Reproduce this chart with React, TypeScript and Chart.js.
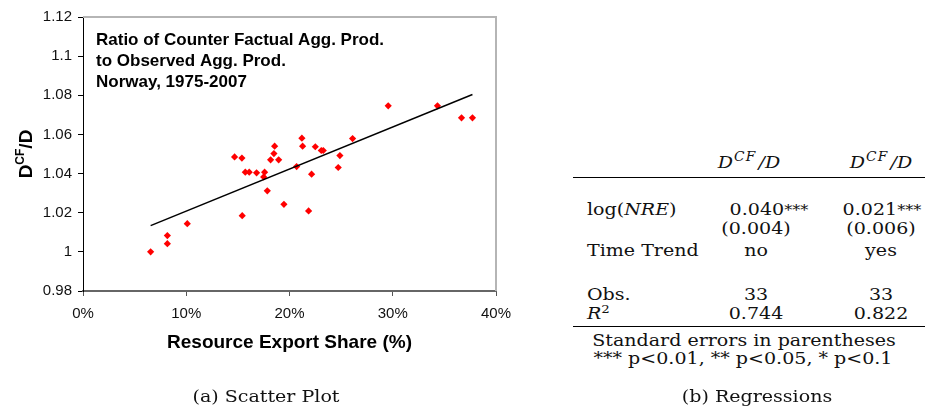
import React, { useEffect, useRef } from "react";
import { Chart, registerables } from "chart.js";

Chart.register(...registerables);

// ---- data ----
const resourceShare = [6.55, 8.17, 8.17, 10.1, 14.68, 15.39, 15.42, 15.72, 16.1, 16.81, 17.59, 17.5, 17.85, 18.17, 18.49, 18.56, 18.95, 19.46, 20.69, 21.2, 21.27, 21.85, 22.14, 22.5, 23.08, 23.27, 24.72, 24.88, 26.11, 29.56, 34.33, 36.66, 37.72];
const ratioCF = [1.0, 1.0083, 1.0042, 1.0144, 1.0485, 1.0479, 1.0185, 1.0407, 1.0407, 1.0404, 1.0407, 1.0383, 1.0312, 1.047, 1.0502, 1.054, 1.047, 1.0243, 1.0436, 1.0581, 1.054, 1.0209, 1.0397, 1.0537, 1.0518, 1.0518, 1.0431, 1.0492, 1.0579, 1.0746, 1.0746, 1.0685, 1.0685];
const trendX = [6.55, 37.72];
const trendY = [1.0134, 1.0804];
const xTicks = [0, 10, 20, 30, 40];
const yTicks = [0.98, 1.0, 1.02, 1.04, 1.06, 1.08, 1.1, 1.12];
const annotationLines = ["Ratio of Counter Factual Agg. Prod.", "to Observed Agg. Prod.", "Norway, 1975-2007"];
const xTitle = "Resource Export Share (%)";

// regression table
const col1 = { coef: "0.040", stars: "***", se: "(0.004)", trend: "no", obs: "33", r2: "0.744" };
const col2 = { coef: "0.021", stars: "***", se: "(0.006)", trend: "yes", obs: "33", r2: "0.822" };
const notes = ["Standard errors in parentheses", "*** p<0.01, ** p<0.05, * p<0.1"];

const SANS = "'Liberation Sans', Arial, sans-serif";
const SERIF = "'DejaVu Serif', serif";
const SX = 1.12;

const overlayPlugin = {
  id: "overlay",
  afterDraw(chart: any) {
    const { ctx, chartArea: a } = chart;
    ctx.save();
    // frame top and right
    ctx.strokeStyle = "#b5b5b5";
    ctx.lineWidth = 2;
    ctx.beginPath();
    ctx.moveTo(a.left, a.top);
    ctx.lineTo(a.right, a.top);
    ctx.lineTo(a.right, a.bottom);
    ctx.stroke();

    // annotation
    ctx.fillStyle = "#000";
    ctx.font = `bold 17px ${SANS}`;
    ctx.textAlign = "left";
    ctx.textBaseline = "alphabetic";
    annotationLines.forEach((t, i) => ctx.fillText(t, a.left + 13, a.top + 28 + i * 21));

    // x title
    ctx.font = `bold 19px ${SANS}`;
    ctx.textAlign = "center";
    ctx.textBaseline = "middle";
    ctx.fillText(xTitle, (a.left + a.right) / 2, a.bottom + 52);

    // y title with superscript
    const cy = (a.top + a.bottom) / 2;
    ctx.translate(25, cy);
    ctx.rotate(-Math.PI / 2);
    ctx.textAlign = "left";
    ctx.textBaseline = "alphabetic";
    const big = `bold 19px ${SANS}`;
    const small = `bold 12px ${SANS}`;
    ctx.font = big;
    const wD = ctx.measureText("D").width;
    const wSlash = ctx.measureText("/D").width;
    ctx.font = small;
    const wCF = ctx.measureText("CF").width;
    const total = wD + wCF + wSlash;
    let x = -total / 2;
    const base = 7;
    ctx.font = big;
    ctx.fillText("D", x, base);
    x += wD;
    ctx.font = small;
    ctx.fillText("CF", x, base - 8);
    x += wCF;
    ctx.font = big;
    ctx.fillText("/D", x, base);
    ctx.restore();
  },
};

function ScatterChart() {
  const ref = useRef<HTMLCanvasElement>(null);
  useEffect(() => {
    if (!ref.current) return;
    const points = resourceShare.map((x, i) => ({ x, y: ratioCF[i] }));
    const trend = trendX.map((x, i) => ({ x, y: trendY[i] }));
    const chart = new Chart(ref.current, {
      type: "scatter",
      data: {
        datasets: [
          {
            type: "line",
            data: trend,
            borderColor: "#000",
            borderWidth: 1.5,
            pointRadius: 0,
            fill: false,
          } as any,
          {
            data: points,
            pointStyle: "rectRot",
            pointRadius: 3.6,
            backgroundColor: "#ff0000",
            borderColor: "#ff0000",
            borderWidth: 0,
          },
        ],
      },
      options: {
        animation: false,
        responsive: false,
        maintainAspectRatio: false,
        layout: { padding: { top: 17, right: 44, left: 0, bottom: 0 } },
        plugins: { legend: { display: false }, tooltip: { enabled: false } },
        scales: {
          x: {
            type: "linear",
            min: 0,
            max: 40,
            afterBuildTicks: (s: any) => {
              s.ticks = xTicks.map((v) => ({ value: v }));
            },
            afterFit: (s: any) => {
              s.height = 116;
            },
            ticks: {
              callback: (v: any) => `${v}%`,
              font: { family: SANS, size: 15 },
              color: "#111",
              padding: 9,
              maxRotation: 0,
            },
            grid: { drawOnChartArea: false, drawTicks: true, tickLength: 5, color: "#555", lineWidth: 1 },
            border: { color: "#666", width: 2 },
          },
          y: {
            min: 0.98,
            max: 1.12,
            afterBuildTicks: (s: any) => {
              s.ticks = yTicks.map((v) => ({ value: v }));
            },
            afterFit: (s: any) => {
              s.width = 83;
            },
            ticks: {
              callback: (v: any) => String(Number(Number(v).toFixed(2))),
              font: { family: SANS, size: 15 },
              color: "#111",
              padding: 6,
            },
            grid: { drawOnChartArea: false, drawTicks: true, tickLength: 5, color: "#000", lineWidth: 1 },
            border: { color: "#000", width: 1 },
          },
        },
      },
      plugins: [overlayPlugin],
    });
    return () => chart.destroy();
  }, []);
  return <canvas ref={ref} width={540} height={407} style={{ position: "absolute", left: 0, top: 0, width: 540, height: 407 }} />;
}

function Txt({ x, y, anchor = "center", children, size = 17 }: any) {
  const centered = anchor === "center";
  return (
    <div
      style={{
        position: "absolute",
        left: x,
        top: y,
        transform: `translate(${centered ? "-50%" : "0"}, -50%) scaleX(${SX})`,
        transformOrigin: centered ? "50% 50%" : "0% 50%",
        whiteSpace: "nowrap",
        fontFamily: SERIF,
        fontSize: size,
        lineHeight: 1,
        color: "#111",
      }}
    >
      {children}
    </div>
  );
}

const DCF = () => (
  <span style={{ fontStyle: "italic" }}>
    D<sup style={{ fontSize: "0.72em", verticalAlign: "0.55em", lineHeight: 0, letterSpacing: "1px", marginLeft: 1 }}>CF</sup>
    <span style={{ marginLeft: 2 }}>/D</span>
  </span>
);

const Stars = ({ s }: any) => <span style={{ fontSize: "0.85em" }}>{s}</span>;

export default function App() {
  const c1 = 756;
  const c2 = 881;
  const lx = 587;
  return (
    <div style={{ position: "absolute", left: 0, top: 0, width: 925, height: 407, background: "#fff", overflow: "hidden" }}>
      <ScatterChart />
      <Txt x={266} y={396}>(a) Scatter Plot</Txt>

      <Txt x={c1 - 7} y={162}><DCF /></Txt>
      <Txt x={c2} y={162}><DCF /></Txt>
      <div style={{ position: "absolute", left: 573, top: 177, width: 352, height: 1.3, background: "#000" }} />

      <Txt x={lx} y={209} anchor="left">log(<i>NRE</i>)</Txt>
      <Txt x={c1 + 13} y={209}>{col1.coef}<Stars s={col1.stars} /></Txt>
      <Txt x={c2 + 1} y={209}>{col2.coef}<Stars s={col2.stars} /></Txt>
      <Txt x={c1} y={228}>{col1.se}</Txt>
      <Txt x={c2} y={228}>{col2.se}</Txt>
      <Txt x={lx} y={250} anchor="left">Time Trend</Txt>
      <Txt x={c1} y={250}>{col1.trend}</Txt>
      <Txt x={c2} y={250}>{col2.trend}</Txt>

      <Txt x={lx} y={294} anchor="left">Obs.</Txt>
      <Txt x={c1} y={294}>{col1.obs}</Txt>
      <Txt x={c2} y={294}>{col2.obs}</Txt>
      <Txt x={lx} y={313} anchor="left"><i>R</i><sup style={{ fontSize: "0.7em", verticalAlign: "0.5em", lineHeight: 0 }}>2</sup></Txt>
      <Txt x={c1} y={313}>{col1.r2}</Txt>
      <Txt x={c2} y={313}>{col2.r2}</Txt>
      <div style={{ position: "absolute", left: 573, top: 326, width: 352, height: 1.3, background: "#000" }} />

      <Txt x={744} y={340}>{notes[0]}</Txt>
      <Txt x={743} y={358}>{notes[1]}</Txt>

      <Txt x={757} y={396}>(b) Regressions</Txt>
    </div>
  );
}
